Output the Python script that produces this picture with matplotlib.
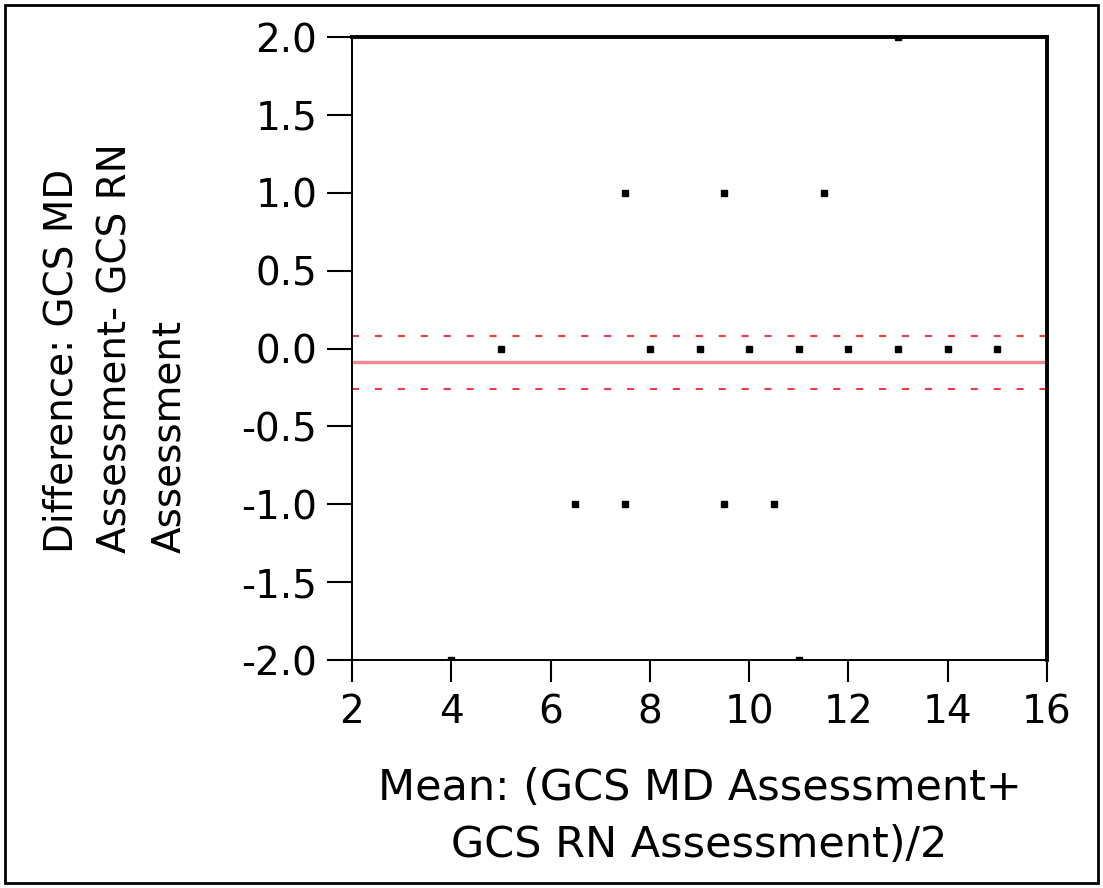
import matplotlib
matplotlib.use("Agg")
import matplotlib.pyplot as plt
from matplotlib.patches import Rectangle

# Data
mean_vals = [5, 8, 9, 10, 11, 12, 13, 14, 15,   # difference 0
             7.5, 9.5, 11.5,                     # difference +1
             6.5, 7.5, 9.5, 10.5,                # difference -1
             13,                                 # difference +2
             4, 11]                              # difference -2
diff_vals = [0, 0, 0, 0, 0, 0, 0, 0, 0,
             1, 1, 1,
             -1, -1, -1, -1,
             2,
             -2, -2]
bias = -0.087
upper_ci = 0.083
lower_ci = -0.257
x_ticks = [2, 4, 6, 8, 10, 12, 14, 16]
y_ticks = [2.0, 1.5, 1.0, 0.5, 0.0, -0.5, -1.0, -1.5, -2.0]

plt.rcParams['font.family'] = ['DejaVu Sans']

W, H = 1103, 888
fig = plt.figure(figsize=(W / 100, H / 100), dpi=100)
ax = fig.add_axes([352 / W, 1 - 660 / H, (1047 - 352) / W, (660 - 37) / H])

ax.axhline(bias, color='#f4868e', lw=2.4, zorder=2)
for v in (upper_ci, lower_ci):
    ax.axhline(v, color='#f23a4a', lw=1.5, linestyle=(0, (3.4, 7.6)), zorder=2)

ax.plot(mean_vals, diff_vals, linestyle='none', marker='s', markersize=4.0,
        color='black', zorder=3, clip_on=True)

ax.set_xlim(2, 16)
ax.set_ylim(-2, 2)
ax.set_xticks(x_ticks)
ax.set_xticklabels([str(t) for t in x_ticks])
ax.set_yticks(y_ticks)
ax.set_yticklabels([f"{t:.1f}" for t in y_ticks])

ax.spines['top'].set_linewidth(2.8)
ax.spines['right'].set_linewidth(2.8)
ax.spines['left'].set_linewidth(1.4)
ax.spines['bottom'].set_linewidth(1.4)
for s in ax.spines.values():
    s.set_color('black')

ax.tick_params(axis='y', direction='out', length=18, width=1.5, pad=7, labelsize=28)
ax.tick_params(axis='x', direction='out', length=16, width=1.5, pad=8, labelsize=28)

ax.set_xlabel("Mean: (GCS MD Assessment+\nGCS RN Assessment)/2", fontsize=31,
              linespacing=1.45)
ax.xaxis.set_label_coords(0.5, -0.172)
ax.set_ylabel("Difference: GCS MD\nAssessment- GCS RN\nAssessment", fontsize=28,
              linespacing=1.52, multialignment='left')
ax.yaxis.set_label_coords(-0.236, 0.5)

# outer frame around the whole figure
fig.patches.append(Rectangle((5 / W, 5 / H), (W - 10) / W, (H - 10) / H,
                             transform=fig.transFigure, fill=False,
                             edgecolor='black', lw=2.0))

fig.savefig("out.png", dpi=100)
